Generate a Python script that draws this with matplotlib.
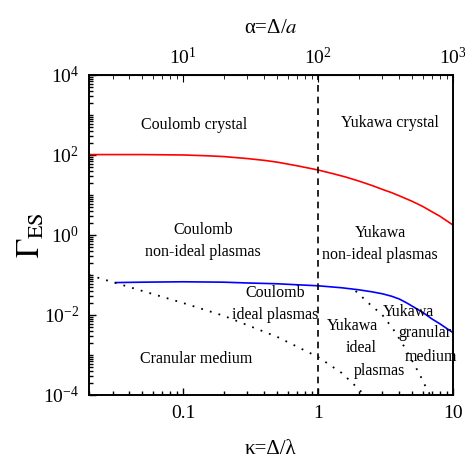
import numpy as np
import matplotlib
matplotlib.use("Agg")
import matplotlib.pyplot as plt
from matplotlib.ticker import LogLocator, LogFormatterMathtext, NullFormatter, FixedLocator, FixedFormatter

plt.rcParams['font.family'] = ['Liberation Serif', 'DejaVu Serif']
plt.rcParams['mathtext.fontset'] = 'stix'

# crystal / liquid boundary (red)
kappa_red = [0.02, 0.03, 0.05, 0.07, 0.1, 0.15, 0.2, 0.3, 0.4, 0.5, 0.7, 1, 1.3, 1.6,
             2, 2.5, 3, 3.5, 4, 5, 6, 7, 8, 10]
log_gamma_red = [2.01, 2.01, 2.01, 2.005, 2.0, 1.98, 1.96, 1.91, 1.865, 1.82, 1.73, 1.625,
                 1.53, 1.45, 1.35, 1.24, 1.14, 1.06, 0.98, 0.84, 0.71, 0.58, 0.47, 0.25]

# non-ideal / ideal boundary (blue)
kappa_blue = [0.0315, 0.05, 0.1, 0.2, 0.3, 0.5, 0.7, 1, 1.5, 2, 2.5, 3, 3.5, 4, 4.5,
              5, 6, 7, 8, 10]
log_gamma_blue = [-1.19, -1.18, -1.17, -1.18, -1.2, -1.22, -1.245, -1.27, -1.32, -1.37,
                  -1.42, -1.47, -1.53, -1.6, -1.69, -1.78, -1.94, -2.1, -2.22, -2.44]

# granular medium boundaries (dotted)
kappa_dot1 = [0.02, 0.05, 0.1, 0.2, 0.5, 1, 1.5, 2, 2.2]
log_gamma_dot1 = [-1.0, -1.4, -1.7, -2.02, -2.55, -3.05, -3.45, -3.85, -4.0]
kappa_dot2 = [1.9, 2.4, 3.0, 3.6, 4.2, 5.0, 5.7, 6.4, 6.8]
log_gamma_dot2 = [-1.40, -1.72, -2.0, -2.35, -2.7, -3.15, -3.5, -3.85, -4.0]

kappa_split = 1.0

# region labels: (text, kappa, log gamma)
labels = [
    ("Coulomb crystal", 0.120, 2.75),
    ("Yukawa crystal", 3.43, 2.8),
    ("Coulomb\nnon-ideal plasmas", 0.140, -0.15),
    ("Yukawa\nnon-ideal plasmas", 2.89, -0.22),
    ("Coulomb\nideal plasmas", 0.479, -1.72),
    ("Yukawa", 1.79, -2.28),
    ("ideal", 2.09, -2.82),
    ("plasmas", 2.84, -3.4),
    ("Yukawa", 4.67, -1.93),
    ("granular", 6.25, -2.45),
    ("medium", 6.92, -3.05),
    ("Cranular medium", 0.126, -3.1),
]

fig = plt.figure(figsize=(4.65, 4.58), dpi=100)
ax = fig.add_axes([0.191, 0.1376, 0.783, 0.6987])

ax.plot(kappa_red, 10 ** np.array(log_gamma_red), color='red', lw=1.2)
ax.plot(kappa_blue, 10 ** np.array(log_gamma_blue), color='blue', lw=1.2)
ax.plot(kappa_dot1, 10 ** np.array(log_gamma_dot1), color='black', lw=1.3, ls=(0, (1, 4)))
ax.plot(kappa_dot2, 10 ** np.array(log_gamma_dot2), color='black', lw=1.3, ls=(0, (1, 4)))
ax.axvline(kappa_split, color='black', lw=1.2, ls=(0, (4, 3)))

for txt, k, lg in labels:
    ax.text(k, 10 ** lg, txt, ha='center', va='center', fontsize=11.5, linespacing=1.5)

ax.set_xscale('log')
ax.set_yscale('log')
ax.set_xlim(0.02, 10)
ax.set_ylim(1e-4, 1e4)

ax.xaxis.set_major_locator(FixedLocator([0.1, 1, 10]))
ax.xaxis.set_major_formatter(FixedFormatter(['0.1', '1', '10']))
ax.xaxis.set_minor_locator(LogLocator(base=10, subs=np.arange(2, 10)))
ax.xaxis.set_minor_formatter(NullFormatter())
ax.yaxis.set_major_locator(LogLocator(base=100, numticks=10))
ax.yaxis.set_major_formatter(LogFormatterMathtext())
ax.yaxis.set_minor_locator(LogLocator(base=10, subs=np.arange(1, 10), numticks=20))
ax.yaxis.set_minor_formatter(NullFormatter())

ax.tick_params(which='both', direction='in', right=False, top=False, labelsize=14, width=1)
ax.tick_params(which='major', length=5, pad=7)
ax.tick_params(which='minor', length=3)
for sp in ax.spines.values():
    sp.set_linewidth(1.4)

ax.set_xlabel('κ=Δ/λ', fontsize=15, labelpad=13)
ax.set_ylabel(r'$\Gamma_{\mathrm{ES}}$', fontsize=23, labelpad=-3)

secax = ax.secondary_xaxis('top', functions=(lambda k: k * 100, lambda a: a / 100))
secax.xaxis.set_major_locator(FixedLocator([10, 100, 1000]))
secax.xaxis.set_major_formatter(LogFormatterMathtext())
secax.xaxis.set_minor_locator(LogLocator(base=10, subs=np.arange(2, 10)))
secax.xaxis.set_minor_formatter(NullFormatter())
secax.tick_params(which='both', direction='in', labelsize=14)
secax.tick_params(which='major', length=5, pad=5)
secax.tick_params(which='minor', length=3)
secax.set_xlabel('α=Δ/$a$', fontsize=15, labelpad=10)

fig.savefig('out.png', dpi=100)
